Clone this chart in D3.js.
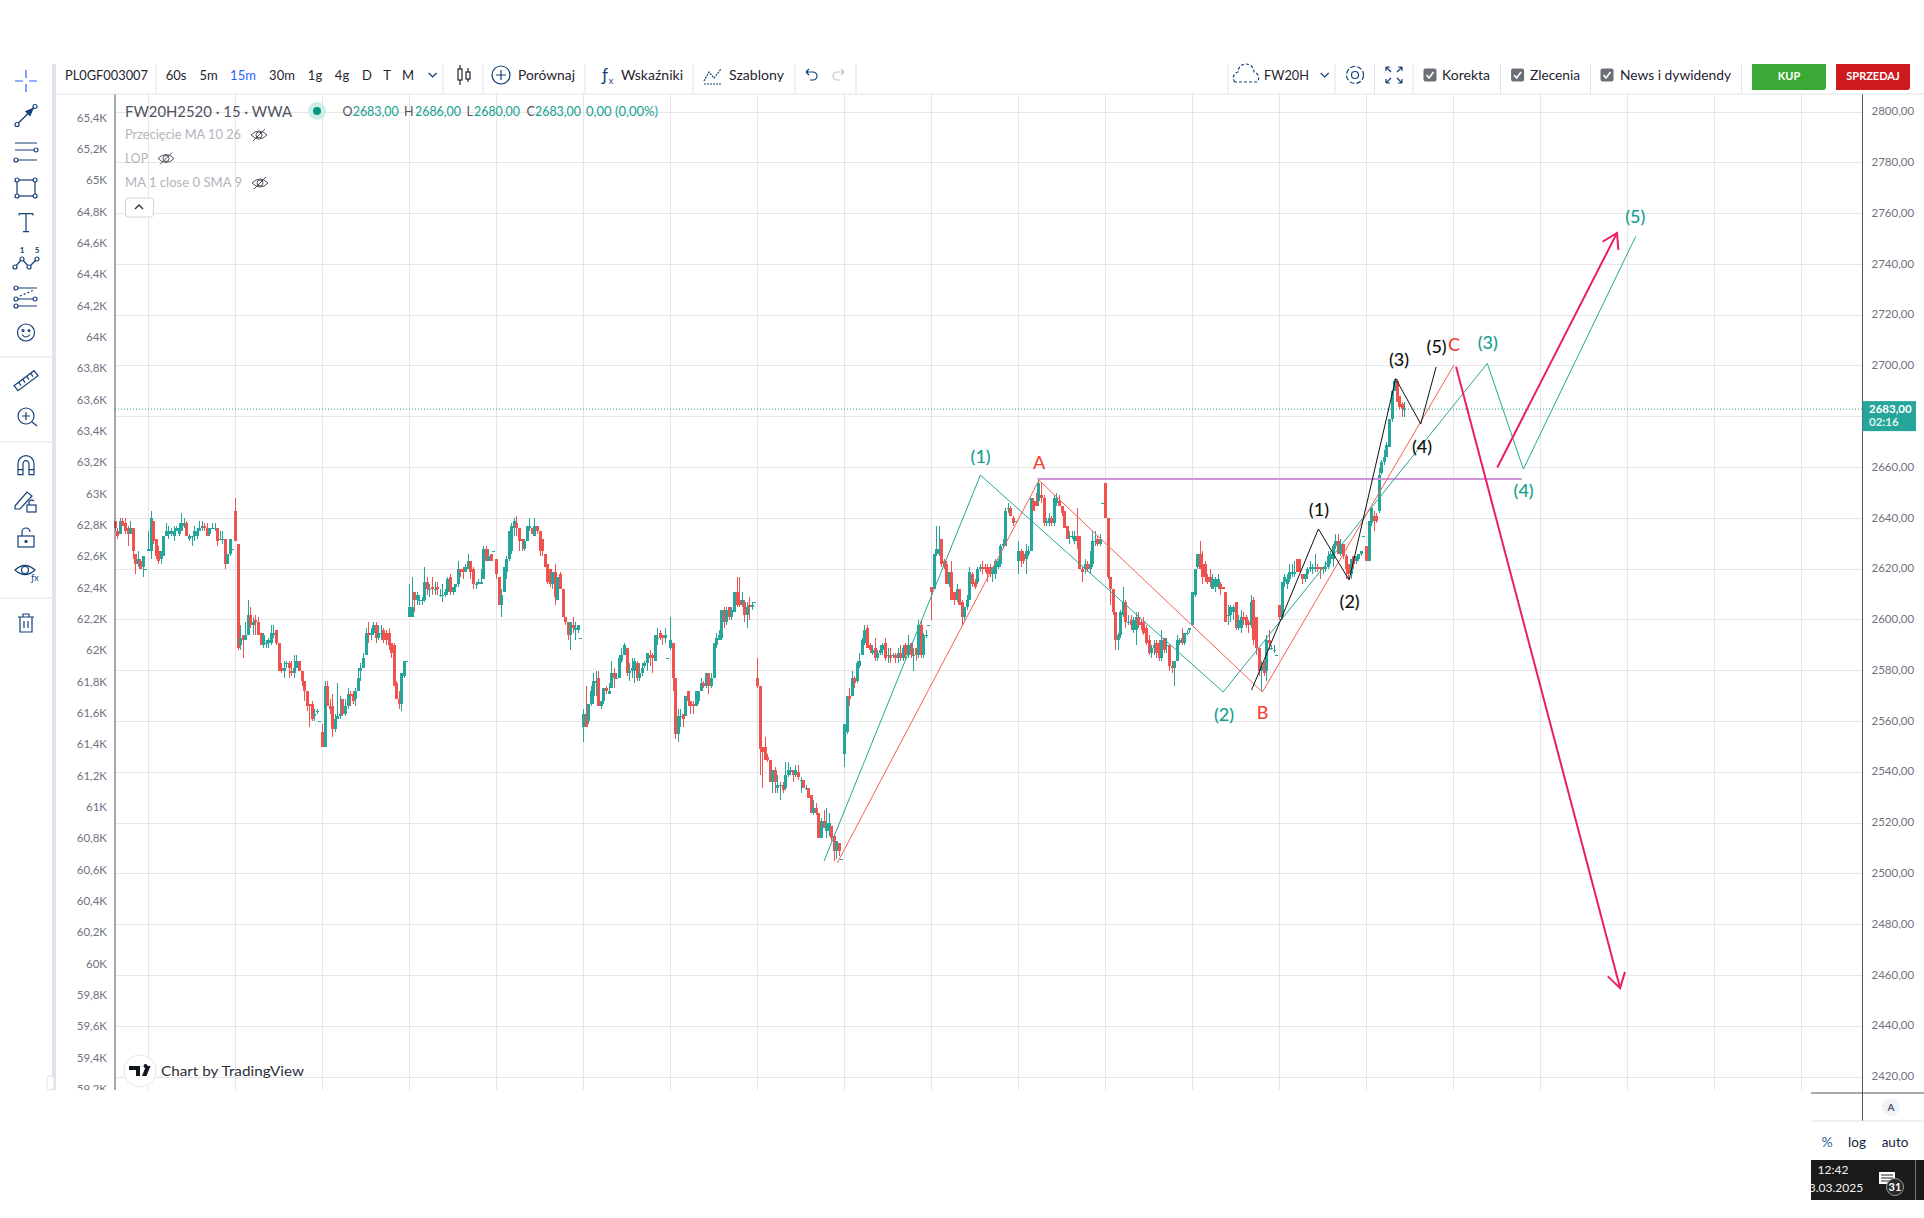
<!DOCTYPE html>
<html>
<head>
<meta charset="utf-8">
<script src="https://cdn.jsdelivr.net/npm/d3@7"></script>
<style>
  html, body { margin: 0; padding: 0; background: #fff; }
  svg { display: block; }
  text { font-family: Lato, "Noto Sans", sans-serif; }
</style>
</head>
<body>
<svg id="chart" width="1924" height="1218"></svg>
<script>
// rows are [open, close, high, low], one array per trading session
const s00 = [[2639,2636,2639,2635],[2635,2633,2636,2632],[2634,2639,2640,2634],[2639,2637,2640,2637],[2638,2635,2640,2634],[2636,2634,2637,2629],[2634,2636,2639,2634],[2636,2627,2636,2624],[2626,2622,2626,2618],[2622,2624,2627,2621],[2623,2620,2624,2620],[2621,2625,2625,2617],[2620,2620,2620,2620]];
const s01 = [[2627,2628,2635,2627],[2627,2640,2643,2624],[2639,2631,2639,2630],[2632,2625,2632,2624],[2627,2623,2629,2622],[2624,2627,2627,2622],[2625,2633,2633,2625],[2633,2635,2638,2633],[2634,2635,2637,2632],[2634,2635,2636,2633],[2633,2635,2637,2631],[2635,2636,2637,2635],[2634,2636,2638,2633],[2635,2638,2642,2635],[2637,2638,2640,2636],[2638,2633,2639,2633],[2632,2633,2634,2631],[2633,2633,2633,2629],[2633,2635,2637,2631],[2633,2635,2636,2632],[2635,2636,2639,2635],[2636,2637,2639,2635],[2637,2636,2638,2635],[2636,2633,2638,2633],[2634,2636,2636,2633],[2636,2636,2638,2636],[2636,2636,2638,2635],[2636,2631,2636,2629],[2632,2632,2635,2632],[2632,2632,2635,2630],[2632,2622,2632,2620],[2622,2626,2626,2622],[2626,2632,2632,2625],[2628,2628,2628,2628]];
const s02 = [[2643,2631,2648,2631],[2630,2589,2630,2588],[2590,2593,2598,2588],[2594,2592,2594,2585],[2592,2594,2599,2592],[2594,2602,2608,2594],[2602,2598,2605,2597],[2598,2599,2601,2594],[2600,2599,2602,2594],[2599,2594,2601,2594],[2595,2590,2595,2590],[2590,2594,2595,2589],[2591,2591,2592,2589],[2591,2592,2593,2589],[2591,2595,2598,2590],[2594,2595,2598,2593],[2596,2591,2596,2590],[2591,2580,2591,2580],[2581,2580,2583,2579],[2580,2581,2584,2577],[2583,2583,2584,2581],[2583,2581,2584,2577],[2580,2579,2584,2578],[2579,2581,2586,2577],[2581,2584,2586,2581],[2584,2580,2584,2580],[2580,2576,2580,2574],[2576,2572,2576,2568],[2572,2566,2572,2564],[2567,2566,2567,2558],[2567,2561,2568,2560],[2562,2563,2565,2560],[2564,2564,2565,2563],[2560,2560,2560,2560]];
const s03 = [[2556,2550,2559,2550],[2550,2574,2576,2550],[2574,2566,2576,2566],[2566,2565,2569,2563],[2566,2557,2571,2554],[2557,2561,2563,2556],[2561,2562,2575,2561],[2562,2563,2570,2561],[2569,2563,2569,2562],[2563,2566,2569,2562],[2566,2571,2573,2565],[2571,2570,2572,2566],[2571,2568,2572,2567],[2569,2572,2573,2566],[2572,2577,2581,2572],[2580,2581,2583,2576],[2581,2585,2587,2581],[2586,2595,2597,2586],[2595,2594,2599,2591],[2594,2595,2597,2592],[2595,2598,2599,2594],[2598,2593,2599,2591],[2593,2595,2598,2592],[2595,2595,2598,2592],[2596,2592,2597,2591],[2595,2592,2596,2590],[2595,2590,2597,2588],[2591,2587,2591,2585],[2590,2574,2591,2574],[2575,2569,2576,2569],[2569,2567,2572,2565],[2567,2579,2579,2564],[2578,2584,2584,2577],[2584,2584,2584,2584]];
const s04 = [[2601,2605,2614,2601],[2601,2605,2617,2601],[2611,2608,2611,2603],[2608,2610,2611,2606],[2608,2608,2610,2606],[2608,2608,2609,2606],[2608,2615,2621,2607],[2615,2612,2617,2610],[2612,2612,2614,2609],[2613,2612,2617,2610],[2612,2612,2615,2610],[2613,2612,2615,2610],[2610,2610,2612,2609],[2610,2610,2614,2607],[2610,2611,2612,2609],[2611,2616,2617,2610],[2617,2611,2618,2610],[2611,2613,2613,2610],[2613,2614,2614,2611],[2614,2620,2623,2613],[2620,2619,2620,2617],[2620,2619,2621,2616],[2619,2621,2622,2619],[2620,2623,2626,2620],[2623,2619,2623,2616],[2620,2614,2621,2612],[2614,2614,2615,2612],[2614,2615,2616,2614],[2614,2615,2620,2614],[2616,2628,2629,2616],[2628,2623,2629,2623],[2623,2625,2628,2623],[2626,2623,2626,2623],[2627,2627,2627,2627]];
const s05 = [[2624,2618,2624,2616],[2617,2606,2617,2606],[2606,2610,2612,2601],[2611,2621,2621,2611],[2619,2624,2625,2616],[2624,2635,2635,2623],[2627,2637,2638,2626],[2636,2639,2640,2633],[2638,2636,2641,2633],[2636,2631,2636,2627],[2632,2631,2632,2627],[2628,2631,2632,2627],[2631,2637,2637,2631],[2636,2637,2640,2635],[2636,2634,2636,2634],[2633,2637,2640,2633],[2637,2635,2637,2634],[2635,2627,2635,2625],[2632,2627,2632,2625],[2626,2621,2626,2621],[2622,2615,2622,2614],[2620,2614,2620,2613],[2614,2619,2619,2612],[2619,2609,2622,2606],[2608,2617,2617,2608],[2618,2612,2619,2612],[2612,2601,2612,2601],[2601,2599,2601,2598],[2599,2594,2599,2592],[2594,2599,2599,2588],[2598,2597,2601,2595],[2596,2597,2599,2592],[2596,2598,2598,2595],[2593,2593,2593,2593]];
const s06 = [[2558,2563,2565,2552],[2563,2558,2574,2558],[2560,2567,2567,2559],[2567,2572,2574,2566],[2570,2576,2579,2567],[2575,2576,2580,2570],[2577,2566,2580,2566],[2566,2568,2568,2565],[2568,2573,2573,2567],[2573,2572,2574,2571],[2571,2572,2575,2571],[2573,2579,2584,2573],[2579,2577,2581,2573],[2577,2577,2579,2577],[2577,2585,2586,2577],[2584,2586,2589,2583],[2586,2590,2591,2586],[2589,2579,2589,2578],[2579,2580,2583,2576],[2580,2581,2585,2577],[2580,2584,2585,2575],[2583,2577,2584,2576],[2577,2579,2583,2576],[2579,2581,2583,2578],[2582,2583,2584,2581],[2583,2587,2587,2580],[2586,2585,2588,2582],[2586,2585,2587,2579],[2584,2594,2594,2584],[2593,2593,2597,2590],[2595,2593,2596,2592],[2594,2593,2594,2590],[2593,2594,2597,2591],[2585,2585,2585,2585]];
const s07 = [[2589,2592,2601,2588],[2591,2577,2591,2572],[2577,2555,2577,2553],[2555,2562,2565,2552],[2562,2562,2565,2558],[2563,2561,2563,2558],[2562,2570,2570,2562],[2572,2568,2572,2566],[2568,2566,2568,2563],[2567,2566,2568,2563],[2566,2572,2572,2566],[2568,2572,2572,2567],[2572,2575,2577,2572],[2575,2574,2576,2573],[2574,2579,2579,2573],[2579,2574,2579,2571],[2574,2577,2579,2573],[2577,2591,2591,2577],[2590,2593,2595,2589],[2592,2594,2596,2592],[2593,2604,2604,2592],[2604,2599,2605,2597],[2599,2604,2605,2598],[2605,2601,2605,2600],[2601,2604,2605,2600],[2603,2611,2611,2603],[2611,2606,2617,2605],[2608,2606,2617,2605],[2606,2608,2611,2605],[2607,2602,2608,2599],[2602,2605,2607,2597],[2606,2605,2609,2600],[2605,2606,2607,2604],[2607,2607,2607,2607]];
const s08 = [[2577,2574,2585,2573],[2574,2549,2574,2539],[2550,2548,2550,2534],[2550,2545,2554,2545],[2546,2545,2547,2544],[2545,2536,2545,2536],[2536,2541,2541,2532],[2541,2536,2542,2532],[2534,2535,2539,2532],[2535,2535,2536,2529],[2535,2533,2536,2532],[2534,2539,2544,2533],[2539,2541,2544,2538],[2540,2541,2542,2539],[2541,2539,2541,2536],[2539,2541,2543,2538],[2540,2538,2543,2537],[2537,2537,2538,2532],[2537,2534,2537,2534],[2534,2534,2535,2533],[2534,2530,2534,2530],[2531,2524,2531,2524],[2524,2526,2529,2523],[2526,2524,2528,2523],[2524,2514,2524,2514],[2514,2521,2522,2514],[2521,2518,2525,2518],[2517,2520,2526,2514],[2517,2520,2524,2515],[2519,2514,2519,2513],[2515,2509,2515,2505],[2509,2513,2513,2506],[2512,2509,2512,2507],[2506,2506,2506,2506]];
const s09 = [[2547,2559,2559,2542],[2556,2570,2570,2555],[2570,2569,2573,2566],[2570,2577,2580,2570],[2577,2575,2578,2573],[2576,2583,2584,2575],[2582,2584,2587,2581],[2586,2592,2593,2586],[2591,2596,2598,2590],[2597,2589,2598,2589],[2590,2588,2591,2587],[2587,2588,2590,2586],[2589,2585,2593,2584],[2585,2587,2588,2584],[2587,2588,2590,2586],[2588,2590,2591,2586],[2591,2585,2593,2584],[2586,2586,2589,2583],[2586,2585,2589,2583],[2586,2586,2587,2585],[2586,2585,2587,2583],[2585,2587,2589,2583],[2587,2585,2590,2584],[2585,2589,2590,2584],[2590,2586,2591,2584],[2586,2590,2594,2585],[2591,2586,2591,2585],[2586,2586,2589,2580],[2589,2586,2589,2584],[2586,2598,2600,2585],[2598,2586,2600,2585],[2586,2594,2595,2585],[2594,2594,2596,2593],[2598,2598,2598,2598]];
const s10 = [[2613,2611,2613,2600],[2612,2626,2626,2612],[2626,2628,2637,2625],[2626,2628,2637,2625],[2632,2622,2632,2621],[2623,2621,2624,2620],[2622,2614,2623,2614],[2614,2619,2619,2613],[2619,2608,2623,2608],[2611,2608,2611,2606],[2608,2612,2614,2607],[2612,2606,2612,2606],[2607,2601,2608,2598],[2601,2605,2605,2600],[2605,2608,2610,2604],[2608,2619,2621,2608],[2618,2614,2619,2613],[2615,2613,2616,2612],[2615,2620,2621,2614],[2620,2621,2622,2619],[2621,2620,2623,2618],[2621,2620,2622,2619],[2621,2618,2622,2615],[2621,2618,2622,2617],[2618,2621,2621,2615],[2618,2623,2624,2616],[2621,2623,2624,2620],[2622,2629,2630,2621],[2629,2630,2632,2628],[2629,2643,2644,2629],[2644,2644,2646,2642],[2644,2641,2645,2641],[2640,2638,2641,2637],[2639,2639,2639,2639]];
const s11 = [[2623,2627,2631,2618],[2627,2623,2628,2621],[2626,2623,2627,2622],[2624,2627,2630,2618],[2626,2627,2629,2625],[2627,2648,2648,2627],[2647,2643,2648,2643],[2647,2645,2650,2645],[2647,2654,2655,2645],[2649,2648,2654,2646],[2648,2638,2649,2637],[2638,2639,2640,2637],[2638,2640,2642,2637],[2640,2638,2641,2637],[2638,2648,2649,2637],[2646,2648,2650,2645],[2647,2645,2649,2645],[2645,2642,2645,2641],[2643,2636,2643,2636],[2637,2632,2637,2632],[2633,2633,2635,2630],[2633,2633,2635,2632],[2631,2633,2635,2630],[2633,2631,2644,2628],[2633,2620,2633,2620],[2620,2619,2621,2615],[2620,2622,2624,2618],[2622,2620,2623,2619],[2620,2622,2627,2618],[2622,2631,2635,2621],[2631,2631,2635,2629],[2632,2630,2633,2629],[2630,2632,2634,2629],[2646,2646,2646,2646]];
const s12 = [[2654,2640,2654,2640],[2640,2617,2640,2616],[2617,2612,2617,2606],[2612,2603,2612,2602],[2603,2592,2603,2588],[2592,2594,2595,2588],[2594,2603,2604,2593],[2602,2607,2613,2601],[2607,2599,2608,2597],[2599,2599,2602,2598],[2600,2598,2602,2596],[2596,2600,2601,2595],[2596,2601,2603,2590],[2601,2598,2603,2597],[2599,2598,2600,2596],[2599,2595,2601,2594],[2597,2591,2598,2590],[2592,2587,2594,2586],[2587,2589,2590,2585],[2589,2590,2592,2586],[2591,2587,2592,2585],[2591,2585,2592,2584],[2585,2592,2596,2584],[2593,2588,2593,2587],[2590,2590,2593,2587],[2590,2582,2590,2580],[2582,2581,2584,2579],[2581,2584,2584,2574],[2584,2592,2594,2584],[2591,2592,2593,2590],[2593,2591,2597,2590],[2591,2595,2595,2590],[2595,2595,2596,2594],[2596,2597,2597,2595]];
const s13 = [[2598,2611,2611,2598],[2610,2620,2620,2609],[2621,2626,2626,2620],[2626,2620,2631,2620],[2622,2617,2627,2614],[2622,2617,2623,2615],[2617,2615,2618,2614],[2617,2615,2620,2613],[2612,2616,2618,2612],[2613,2616,2617,2611],[2613,2616,2618,2612],[2614,2612,2615,2610],[2613,2612,2613,2612],[2611,2599,2611,2599],[2602,2602,2606,2598],[2602,2605,2606,2599],[2603,2605,2606,2600],[2607,2597,2607,2596],[2597,2600,2602,2596],[2597,2601,2604,2595],[2601,2600,2603,2598],[2601,2598,2602,2597],[2599,2598,2600,2595],[2598,2607,2610,2597],[2608,2592,2609,2590],[2601,2589,2601,2586],[2589,2580,2589,2578],[2580,2582,2584,2572],[2583,2579,2584,2578],[2580,2592,2594,2576],[2592,2591,2596,2588],[2589,2589,2590,2588],[2588,2588,2590,2587],[2586,2586,2586,2586]];
const s14 = [[2606,2601,2606,2600],[2601,2615,2615,2600],[2615,2617,2618,2613],[2614,2616,2618,2612],[2616,2619,2622,2615],[2618,2619,2622,2617],[2618,2619,2623,2617],[2624,2619,2624,2619],[2624,2619,2624,2619],[2618,2616,2618,2614],[2616,2618,2618,2615],[2618,2620,2621,2616],[2620,2621,2623,2619],[2620,2621,2622,2618],[2620,2621,2626,2619],[2621,2620,2622,2619],[2621,2620,2621,2616],[2620,2621,2621,2618],[2620,2621,2623,2619],[2621,2625,2627,2620],[2624,2626,2627,2622],[2624,2629,2630,2621],[2629,2631,2634,2628],[2631,2626,2634,2626],[2626,2630,2632,2625],[2630,2625,2630,2624],[2625,2620,2626,2616],[2622,2618,2622,2616],[2618,2624,2624,2616],[2625,2622,2625,2620],[2623,2625,2625,2622],[2624,2626,2626,2623],[2626,2627,2627,2625],[2633,2633,2633,2633]];
const s15 = [[2629,2623,2629,2623],[2623,2639,2639,2623],[2638,2644,2644,2637],[2641,2639,2643,2635],[2641,2639,2642,2638],[2643,2657,2660,2642],[2658,2662,2663,2657],[2662,2664,2667,2661],[2664,2669,2670,2664],[2668,2679,2679,2668],[2679,2690,2690,2678],[2690,2694,2695,2690],[2694,2686,2695,2686],[2688,2684,2688,2683],[2685,2683,2686,2680],[2683,2683,2686,2680]];
const sessions = [s00,s01,s02,s03,s04,s05,s06,s07,s08,s09,s10,s11,s12,s13,s14,s15];

const barsPerSession = 34;
const firstSessionBars = s00.length;
const gridSessions = d3.range(0, 20);             // vertical grid, session opens
const rightTicks = d3.range(2420, 2801, 20);
const leftTicks = d3.range(59200, 65401, 200);
const lastPrice = 2683;

// drawn waves, [bar index, price]
const tealWave = [[277.2,2505],[338.3,2657],[433.2,2571.6],[536.4,2701],[550.5,2659.4],[594.4,2751]];
const redWave = [[282.4,2504.3],[361.2,2655],[448.5,2571.6],[523.4,2700.4]];
const blackWave = [[444.3,2572.4],[470.4,2635.8],[482.4,2615.7],[500.6,2695],[510.4,2677.2],[516.4,2699.6]];
const purpleLevel = [[360.6,2655.5],[549.9,2655.5]];
const pinkDown = [[524.2,2699.7],[588.3,2455]];
const pinkUp = [[540.3,2660],[587.1,2752.4]];

const tealLabels = [["(1)",338.4,2664.2],["(2)",433.5,2562.6],["(3)",536.6,2709.2],["(4)",550.6,2650.8],["(5)",594.2,2758.7]];
const redLabels = [["A",361.3,2661.9],["B",448.6,2563.4],["C",523.4,2708.3]];
const blackLabels = [["(1)",470.6,2643.3],["(2)",482.6,2607],["(3)",501.9,2702.4],["(4)",510.9,2668.2],["(5)",516.6,2707.6]];

const UP = "#26a69a", DOWN = "#ef5350", GRID = "#e6e6e8", NAVY = "#133f78", PANEL = "#e0e3eb";
const TEAL_TXT = "#14a08f";

const plot = {left: 115, right: 1862.5, top: 94, bottom: 1090};
const svg = d3.select("#chart");
const locale = d3.formatLocale({decimal: ",", thousands: "", grouping: [3], currency: ["", ""]});

const x = d3.scaleLinear().domain([firstSessionBars, firstSessionBars + barsPerSession]).range([148, 235]);
const y = d3.scaleLinear().domain([2800, 2420]).range([112, 1077]);
const yLeft = d3.scaleLinear().domain([65400, 59400]).range([118, 1058]);

svg.append("defs").append("clipPath").attr("id", "plotclip")
  .append("rect").attr("x", 0).attr("y", plot.top).attr("width", 1924).attr("height", plot.bottom - plot.top);

// grid
const grid = svg.append("g").attr("stroke", GRID).attr("stroke-width", 1).attr("shape-rendering", "crispEdges");
grid.selectAll(".h").data(rightTicks).enter().append("line")
  .attr("x1", plot.left).attr("x2", plot.right).attr("y1", d => y(d)).attr("y2", d => y(d));
grid.selectAll(".v").data(gridSessions).enter().append("line")
  .attr("x1", d => x(firstSessionBars + d * barsPerSession)).attr("x2", d => x(firstSessionBars + d * barsPerSession))
  .attr("y1", plot.top).attr("y2", plot.bottom);

// candles
const bars = [];
sessions.forEach((rows, s) => rows.forEach((r, j) => {
  const start = s === 0 ? 0 : firstSessionBars + (s - 1) * barsPerSession;
  bars.push({i: start + j, o: r[0], c: r[1], h: r[2], l: r[3]});
}));
const candles = svg.append("g").attr("shape-rendering", "crispEdges").selectAll("g").data(bars).enter().append("g")
  .attr("fill", d => d.c >= d.o ? UP : DOWN);
candles.append("rect")
  .attr("x", d => Math.round(x(d.i)))
  .attr("width", 1)
  .attr("y", d => y(d.h))
  .attr("height", d => Math.max(1, y(d.l) - y(d.h)));
candles.append("rect")
  .attr("x", d => Math.round(x(d.i)) - 1)
  .attr("width", 3)
  .attr("y", d => y(Math.max(d.o, d.c)))
  .attr("height", d => Math.max(1, Math.abs(y(d.o) - y(d.c))));

// last price line
svg.append("line").attr("x1", plot.left).attr("x2", plot.right).attr("y1", y(lastPrice)).attr("y2", y(lastPrice))
  .attr("stroke", UP).attr("stroke-width", 1).attr("stroke-dasharray", "1 2");

// drawings
const line = d3.line().x(d => x(d[0])).y(d => y(d[1]));
function wave(pts, color, width) {
  svg.append("path").attr("d", line(pts)).attr("fill", "none").attr("stroke", color).attr("stroke-width", width);
}
wave(purpleLevel, "#ce93d8", 2);
wave(tealWave, UP, 1);
wave(redWave, "#f4614f", 1);
wave(blackWave, "#111", 1);
function arrow(pts, color) {
  wave(pts, color, 2);
  const [a, b] = pts, tip = [x(b[0]), y(b[1])];
  const ang = Math.atan2(y(b[1]) - y(a[1]), x(b[0]) - x(a[0]));
  const arm = s => [tip[0] - 17 * Math.cos(ang + s), tip[1] - 17 * Math.sin(ang + s)];
  svg.append("path").attr("d", d3.line()([arm(0.55), tip, arm(-0.55)]))
    .attr("fill", "none").attr("stroke", color).attr("stroke-width", 2);
}
arrow(pinkDown, "#e91e63");
arrow(pinkUp, "#e91e63");

function waveLabels(rows, color) {
  svg.append("g").selectAll("text").data(rows).enter().append("text")
    .attr("x", d => x(d[1])).attr("y", d => y(d[2])).attr("dy", "0.35em")
    .attr("text-anchor", "middle").attr("font-size", 18).attr("font-weight", 500)
    .attr("fill", color).text(d => d[0]);
}
waveLabels(tealLabels, TEAL_TXT);
waveLabels(redLabels, "#f44336");
waveLabels(blackLabels, "#111");

// axes
const rightAxis = d3.axisRight(y).tickValues(rightTicks).tickSize(0).tickPadding(9).tickFormat(locale.format(".2f"));
const leftAxis = d3.axisLeft(yLeft).tickValues(leftTicks).tickSize(0).tickPadding(8)
  .tickFormat(d => locale.format(".1~f")(d / 1000) + "K");
const ra = svg.append("g").attr("transform", `translate(${plot.right},-1)`).call(rightAxis);
const la = svg.append("g").attr("clip-path", "url(#plotclip)").append("g").attr("transform", `translate(${plot.left},-0.5)`).call(leftAxis);
[ra, la].forEach(g => {
  g.select(".domain").remove();
  g.selectAll("text").attr("font-size", 11.5).attr("fill", "#6f7280").style("font-family", "Lato, sans-serif");
});
svg.append("line").attr("x1", plot.left).attr("x2", plot.left).attr("y1", plot.top).attr("y2", plot.bottom).attr("stroke", "#50535e");
svg.append("line").attr("x1", plot.right).attr("x2", plot.right).attr("y1", plot.top).attr("y2", 1121).attr("stroke", "#50535e");
svg.append("line").attr("x1", 1811).attr("x2", 1924).attr("y1", 1093).attr("y2", 1093).attr("stroke", "#50535e");
svg.append("line").attr("x1", 1811).attr("x2", 1924).attr("y1", 1121).attr("y2", 1121).attr("stroke", PANEL);

// price tag
svg.append("rect").attr("x", plot.right).attr("y", y(lastPrice) - 8).attr("width", 53.5).attr("height", 30).attr("fill", UP);
function label(tx, ty, str, o = {}) {
  const t = svg.append("text").attr("x", tx).attr("y", ty).attr("dy", "0.35em").text(str)
    .attr("font-size", o.size || 13).attr("fill", o.fill || "#1f2430")
    .attr("text-anchor", o.anchor || "start").attr("font-weight", o.weight || 400);
  if (o.len) t.attr("textLength", o.len).attr("lengthAdjust", "spacingAndGlyphs");
  return t;
}
label(1869, 409, "2683,00", {size: 11.5, fill: "#fff", weight: 700});
label(1869, 422, "02:16", {size: 11.5, fill: "#dff3f0", weight: 700});

// panels and toolbar
svg.append("rect").attr("x", 52).attr("y", 64).attr("width", 4).attr("height", 1026).attr("fill", PANEL);
svg.append("rect").attr("x", 47).attr("y", 1076).attr("width", 7).attr("height", 14).attr("rx", 3).attr("fill", "#fff").attr("stroke", PANEL);
svg.append("line").attr("x1", 56).attr("x2", 1924).attr("y1", 94).attr("y2", 94).attr("stroke", PANEL);
[156, 443, 483, 585, 693, 795, 856, 1228, 1335, 1374.5, 1413, 1500.5, 1590.5, 1741.5].forEach(sx =>
  svg.append("line").attr("x1", sx).attr("x2", sx).attr("y1", 64).attr("y2", 94).attr("stroke", PANEL));
[357, 442, 598].forEach(sy =>
  svg.append("line").attr("x1", 0).attr("x2", 52).attr("y1", sy).attr("y2", sy).attr("stroke", PANEL));

label(65, 75, "PL0GF003007", {size: 13, len: 83});
[["60s",176],["5m",208.5],["30m",282],["1g",315],["4g",342],["D",367],["T",387],["M",408]].forEach(d =>
  label(d[1], 75, d[0], {anchor: "middle"}));
label(243, 75, "15m", {anchor: "middle", fill: "#2962ff"});
label(518, 75, "Porównaj", {len: 57});
label(621, 75, "Wskaźniki", {len: 62});
label(729, 75, "Szablony", {len: 55});
label(1264, 75, "FW20H", {len: 45});
label(1442, 75, "Korekta", {len: 48});
label(1530, 75, "Zlecenia", {len: 50});
label(1620, 75, "News i dywidendy", {len: 111});

function button(bx, w, fill, str) {
  svg.append("path").attr("fill", fill)
    .attr("d", `M${bx},64H${bx + w}V87q0,3 -3,3H${bx}Z`);
  label(bx + w / 2, 76, str, {anchor: "middle", fill: "#fff", size: 11, weight: 700});
}
button(1752, 74, "#3aa935", "KUP");
button(1836, 74, "#cc1a1f", "SPRZEDAJ");

// checkboxes
[1430, 1517.6, 1607].forEach(cx => {
  svg.append("rect").attr("x", cx - 6.5).attr("y", 68.5).attr("width", 13).attr("height", 13).attr("rx", 2).attr("fill", "#6b6f78");
  svg.append("path").attr("d", `M${cx - 3.5},75l2.5,3l4.5,-6`).attr("fill", "none").attr("stroke", "#fff").attr("stroke-width", 1.6);
});

// legend
label(125, 111.5, "FW20H2520 · 15 · WWA", {size: 15, fill: "#50535e", len: 167});
svg.append("circle").attr("cx", 317).attr("cy", 111).attr("r", 9).attr("fill", "#cfeeea");
svg.append("circle").attr("cx", 317).attr("cy", 111).attr("r", 4).attr("fill", "#089981");
[["O",342.5],["H",404],["L",466.5],["C",526.5]].forEach(d => label(d[1], 111.5, d[0], {size: 12.5, fill: "#50535e"}));
[["2683,00",352.7],["2686,00",415],["2680,00",474],["2683,00",535]].forEach(d => label(d[1], 111.5, d[0], {size: 12.5, fill: TEAL_TXT, len: 46}));
label(586, 111.5, "0,00 (0,00%)", {size: 12.5, fill: TEAL_TXT, len: 72});
label(125, 135, "Przecięcie MA 10 26", {size: 12.5, fill: "#b2b5be", len: 116});
label(125, 158.5, "LOP", {size: 12.5, fill: "#b2b5be", len: 23});
label(125, 182.5, "MA 1 close 0 SMA 9", {size: 12.5, fill: "#b2b5be", len: 117});
function crossedEye(cx, cy) {
  const g = svg.append("g").attr("transform", `translate(${cx},${cy})`).attr("fill", "none").attr("stroke", "#50535e").attr("stroke-width", 1);
  g.append("path").attr("d", "M-8,0Q0,-8 8,0Q0,8 -8,0Z");
  g.append("circle").attr("r", 3);
  g.append("path").attr("d", "M-6,6L6,-6");
}
crossedEye(259, 135); crossedEye(166, 158.5); crossedEye(260, 183);
svg.append("rect").attr("x", 125.5).attr("y", 198).attr("width", 28).attr("height", 19).attr("rx", 3).attr("fill", "#fff").attr("stroke", "#d1d4dc");
svg.append("path").attr("d", "M135,209l4,-4l4,4").attr("fill", "none").attr("stroke", "#2a2e39").attr("stroke-width", 1.4);

// watermark
svg.append("circle").attr("cx", 140).attr("cy", 1071).attr("r", 16).attr("fill", "#fff").attr("stroke", "#e6e6ea");
svg.append("path").attr("fill", "#131722").attr("d", "M129,1066h11v10h-4v-6h-7zM145.5,1068a2,2 0 1 1 0.1,0zM142,1076l4,-10h4.5l-4,10z");
label(161, 1071, "Chart by TradingView", {size: 14, fill: "#2a2e39", len: 143});

// bottom right panel
svg.append("circle").attr("cx", 1891).attr("cy", 1107).attr("r", 9).attr("fill", "#f0f3fa");
label(1891, 1107, "A", {size: 10, anchor: "middle", fill: "#50535e", weight: 700});
label(1827, 1142, "%", {size: 14, anchor: "middle", fill: "#2d5fa0"});
label(1857, 1142, "log", {size: 13.5, anchor: "middle", fill: "#12243f"});
label(1895, 1142, "auto", {size: 13.5, anchor: "middle", fill: "#12243f"});
svg.append("rect").attr("x", 1811).attr("y", 1160).attr("width", 113).attr("height", 40).attr("fill", "#1a1a1a");
svg.append("line").attr("x1", 1915.5).attr("x2", 1915.5).attr("y1", 1160).attr("y2", 1200).attr("stroke", "#777");
label(1833, 1170, "12:42", {size: 12, anchor: "middle", fill: "#f2f2f2"});
label(1836, 1188, "3.03.2025", {size: 12, anchor: "middle", fill: "#f2f2f2"});
svg.append("path").attr("d", "M1879,1172h16v12h-16z").attr("fill", "#fff");
svg.append("path").attr("d", "M1881,1175h12M1881,1178h12M1881,1181h12").attr("stroke", "#222");
svg.append("circle").attr("cx", 1895).attr("cy", 1187).attr("r", 8.5).attr("fill", "#2a2a2a").attr("stroke", "#999");
label(1895, 1187, "31", {size: 11, anchor: "middle", fill: "#fff", weight: 700});

// sidebar icons, translate to icon centre
function icon(cx, cy, color) {
  return svg.append("g").attr("transform", `translate(${cx},${cy})`).attr("fill", "none")
    .attr("stroke", color || NAVY).attr("stroke-width", 1.2);
}
function knob(g, px, py) { g.append("circle").attr("cx", px).attr("cy", py).attr("r", 2).attr("fill", "#fff"); }
let g = icon(26, 81, "#2962ff");
g.append("path").attr("d", "M-11,0H-3M3,0H11M0,-11V-3M0,3V11");
g = icon(26, 115.5);
g.append("path").attr("d", "M-9,9L9,-9"); knob(g, -9, 9); knob(g, 9, -9);
g.append("path").attr("d", "M7,-7l-7,3l4,4z").attr("fill", NAVY);
g = icon(26, 152);
g.append("path").attr("d", "M-11,-9H11M-11,-2H8M-8,8H11"); knob(g, 10, -2); knob(g, -10, 8);
g = icon(26, 188);
g.append("rect").attr("x", -9).attr("y", -8).attr("width", 18).attr("height", 16); [[-9,-8],[9,-8],[-9,8],[9,8]].forEach(p => knob(g, p[0], p[1]));
g = icon(26, 222.6);
g.append("path").attr("d", "M-7,-9H7M-7,-9v2M7,-9v2M0,-9V9M-3,9H3");
g = icon(26, 261);
g.append("path").attr("d", "M-11,6L-4,-2L3,6L11,-2"); [[-11,6],[-4,-2],[3,6],[11,-2]].forEach(p => knob(g, p[0], p[1]));
label(22, 250, "1", {size: 8, fill: NAVY, anchor: "middle", weight: 700});
label(37, 250, "5", {size: 8, fill: NAVY, anchor: "middle", weight: 700});
g = icon(26, 297);
g.append("path").attr("d", "M-10,-9H11M-10,2H10M-10,9H11"); knob(g, -10, -9); knob(g, -10, 2); knob(g, -10, 9); knob(g, 9, 2);
g.append("path").attr("d", "M-6,-1L8,-7").attr("stroke-dasharray", "2 2");
g = icon(26, 332.5);
g.append("circle").attr("r", 8.5); g.append("path").attr("d", "M-4,2Q0,7 4,2");
g.append("circle").attr("cx", -3).attr("cy", -2).attr("r", 1); g.append("circle").attr("cx", 3).attr("cy", -2).attr("r", 1);
g = icon(26, 380.7);
g.append("path").attr("d", "M-12,5L8,-10L12,-5L-8,10Z M-7,2l2,3M-3,-1l2,3M1,-4l2,3M5,-7l2,3");
g = icon(26, 416);
g.append("circle").attr("r", 8); g.append("path").attr("d", "M6,6L11,10M-4,0H4M0,-4V4");
g = icon(26, 465.7);
g.append("path").attr("d", "M-8,9V-2A8,8 0 0 1 8,-2V9H3V-2A3,3 0 0 0 -3,-2V9ZM-8,4H-3M3,4H8");
g = icon(24, 500);
g.append("path").attr("d", "M-9,6L3,-8L8,-4L-4,9L-9,9Z");
g.append("rect").attr("x", 3).attr("y", 5).attr("width", 9).attr("height", 7);
g.append("path").attr("d", "M5,5V2a3,3 0 0 1 5,-1");
g = icon(26, 538);
g.append("rect").attr("x", -8).attr("y", -2).attr("width", 16).attr("height", 11);
g.append("path").attr("d", "M-4,-2V-6a4,4 0 0 1 8,0"); g.append("circle").attr("cy", 3.5).attr("r", 1).attr("fill", NAVY);
g = icon(25, 570);
g.append("path").attr("d", "M-10,0Q0,-9 10,0Q0,9 -10,0Z"); g.append("circle").attr("r", 3.5);
label(35, 578, "ƒx", {size: 9, fill: NAVY, anchor: "middle"});
g = icon(26, 623);
g.append("path").attr("d", "M-8,-6H8M-6,-6V9H6V-6M-3,-6V-9H3V-6M-2,-2V5M2,-2V5");

// toolbar icons
g = icon(464, 75, "#1f2430");
g.append("path").attr("d", "M-4,-10V10M4,-7V7"); g.append("rect").attr("x", -6).attr("y", -6).attr("width", 4).attr("height", 11).attr("fill", "#fff");
g.append("rect").attr("x", 2).attr("y", -3).attr("width", 4).attr("height", 7).attr("fill", "#fff");
g = icon(501, 75);
g.append("circle").attr("r", 9); g.append("path").attr("d", "M-5,0H5M0,-5V5");
label(605, 75, "ƒ", {size: 17, anchor: "middle", fill: NAVY});
label(611, 81, "x", {size: 9, anchor: "middle", fill: NAVY});
g = icon(713, 75);
g.append("path").attr("d", "M-9,6L-4,-3L1,3L8,-6M-9,9H9").attr("stroke-dasharray", "2 1");
g = icon(811, 75);
g.append("path").attr("d", "M-5,-3H2a4,4 0 0 1 0,8H-1M-5,-3l3,-3M-5,-3l3,3");
g = icon(839, 75, "#c3c6cf");
g.append("path").attr("d", "M5,-3H-2a4,4 0 0 0 0,8H1M5,-3l-3,-3M5,-3l-3,3");
g = icon(1246, 75);
g.append("path").attr("d", "M-11,7A6,6 0 0 1 -8,-3A8,8 0 0 1 8,-3A6,6 0 0 1 11,7Z").attr("stroke-dasharray", "3 2");
[432.6, 1324.7].forEach(cx => { icon(cx, 75).append("path").attr("d", "M-4,-2L0,2L4,-2"); });
g = icon(1355, 75);
g.append("circle").attr("r", 3.5); g.append("circle").attr("r", 8.5).attr("stroke-dasharray", "5 2");
g = icon(1394, 75);
g.append("path").attr("d", "M-8,-8h4M-8,-8v4M-8,-8l5,5M8,-8h-4M8,-8v4M8,-8l-5,5M-8,8h4M-8,8v-4M-8,8l5,-5M8,8h-4M8,8v-4M8,8l-5,-5");
</script>
</body>
</html>
